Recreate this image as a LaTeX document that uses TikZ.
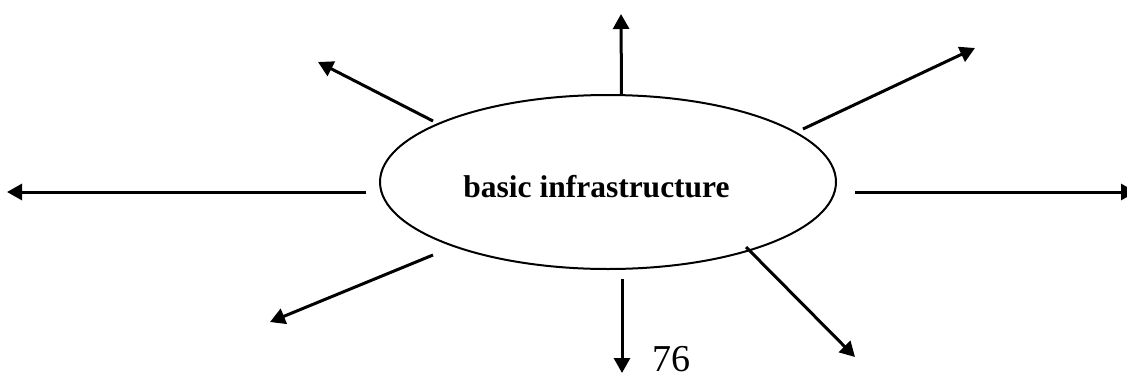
\documentclass[tikz,border=0pt]{standalone}
\usepackage{fontspec}
\setmainfont{Liberation Serif}
\usetikzlibrary{arrows.meta,shapes.geometric}
\tikzset{
  ray/.style={line width=3pt, -{Triangle[length=15pt,width=16pt]}},
  hubshape/.style={ellipse, draw, line width=2pt, minimum width=456pt, minimum height=174pt, inner sep=0pt},
}
\begin{document}
\begin{tikzpicture}[x=1pt,y=-1pt]
  \useasboundingbox (0,0) rectangle (1127,378);
  \clip (0,0) rectangle (1127,378);
  % central ellipse
  \node[hubshape] (hub) at (608,182) {};
  \node[anchor=base, font=\fontsize{31.5}{36}\selectfont\bfseries] (label) at (596.5,197) {basic infrastructure};
  % rays: start just off the ellipse, end at the arrow tips
  \coordinate (s1) at (621.5,95);   \coordinate (e1) at (621,14);
  \coordinate (s2) at (803,129);    \coordinate (e2) at (975,48);
  \coordinate (s3) at (855,192);    \coordinate (e3) at (1136,192);
  \coordinate (s4) at (746,247);    \coordinate (e4) at (855,357);
  \coordinate (s5) at (622,279);    \coordinate (e5) at (622,373);
  \coordinate (s6) at (433,255);    \coordinate (e6) at (270,322);
  \coordinate (s7) at (366,192);    \coordinate (e7) at (7,192);
  \coordinate (s8) at (433,121);    \coordinate (e8) at (318,62);
  \foreach \i in {1,...,8} \draw[ray] (s\i) -- (e\i);
  % page number
  \node[anchor=base west, inner sep=0pt, text depth=0pt, font=\fontsize{38}{44}\selectfont] (page) at (652,371) {76};
\end{tikzpicture}
\end{document}
